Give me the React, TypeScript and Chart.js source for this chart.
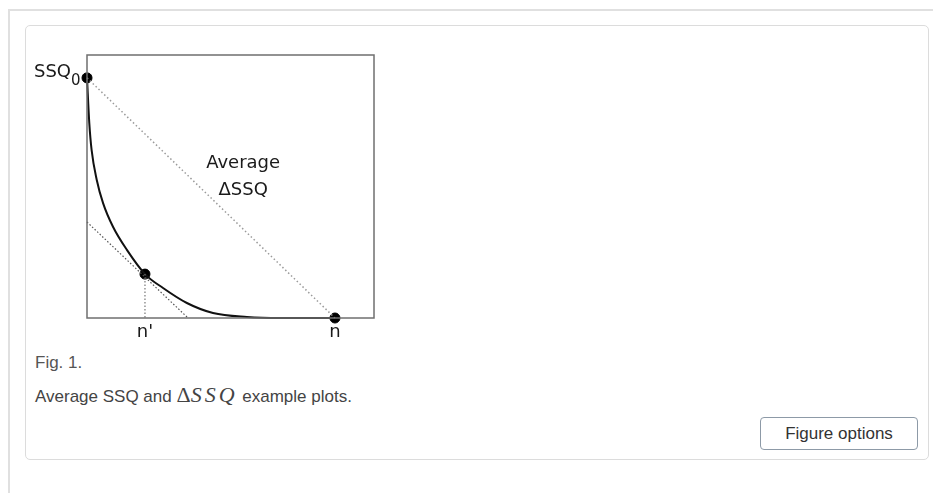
import React, { useEffect, useRef } from "react";
import { Chart, registerables } from "chart.js";

Chart.register(...registerables);

// ---- data (x: 0..100 sample axis, y: 0..100 SSQ axis) ----
const curveX = [0, 0.8, 1.6, 3.4, 5.6, 9.1, 13.9, 20.2, 26.5, 34.8, 43.9, 55.7, 67.2, 86.4];
const curveY = [91.3, 74.1, 63.9, 52.5, 43.7, 34.6, 25.9, 16.7, 11.4, 5.7, 1.9, 0.4, 0, 0];
const averageLineX = [0, 86.4];
const averageLineY = [91.3, 0];
const tangentX = [0, 35.2];
const tangentY = [36.5, 0];
const nPrimeDropX = [20.2, 20.2];
const nPrimeDropY = [16.7, 0];
const markerX = [0, 20.2, 86.4];
const markerY = [91.3, 16.7, 0];
const tickValues = [20.2, 86.4];
const tickLabels = ["n'", "n"];
const noteLines = ["Average", "ΔSSQ"];
const noteX = [54.4, 54.4];
const noteY = [58.9, 48.7];
const ssqLabel = "SSQ";
const ssqSub = "0";

const pts = (xs: number[], ys: number[]) => xs.map((x, i) => ({ x, y: ys[i] }));

const framePlugin = {
  id: "frameAndNotes",
  afterDatasetsDraw(chart: any) {
    const { ctx, chartArea, scales } = chart;
    ctx.save();
    ctx.strokeStyle = "#6f6f6f";
    ctx.lineWidth = 1.5;
    ctx.strokeRect(chartArea.left, chartArea.top, chartArea.right - chartArea.left, chartArea.bottom - chartArea.top);
    ctx.fillStyle = "#1a1a1a";
    ctx.font = '18px "DejaVu Sans"';
    ctx.textAlign = "center";
    ctx.textBaseline = "middle";
    noteLines.forEach((t, i) => {
      ctx.fillText(t, scales.x.getPixelForValue(noteX[i]), scales.y.getPixelForValue(noteY[i]));
    });
    // SSQ0 label next to the top marker
    const py = scales.y.getPixelForValue(markerY[0]);
    const px = scales.x.getPixelForValue(markerX[0]);
    ctx.textBaseline = "alphabetic";
    ctx.textAlign = "right";
    ctx.font = '18px "DejaVu Sans"';
    ctx.fillText(ssqLabel, px - 16, py - 1);
    ctx.textAlign = "left";
    ctx.font = '15px "DejaVu Sans"';
    ctx.fillText(ssqSub, px - 16, py + 7);
    ctx.restore();
  },
};

function FigureChart() {
  const ref = useRef<HTMLCanvasElement | null>(null);
  useEffect(() => {
    if (!ref.current) return;
    const chart = new Chart(ref.current, {
      type: "scatter",
      data: {
        datasets: [
          {
            data: pts(averageLineX, averageLineY),
            showLine: true,
            borderColor: "#9a9a9a",
            borderWidth: 1.5,
            borderDash: [1.5, 2.5],
            pointRadius: 0,
            clip: false,
          },
          {
            data: pts(tangentX, tangentY),
            showLine: true,
            borderColor: "#555",
            borderWidth: 1.2,
            borderDash: [1.5, 2],
            pointRadius: 0,
            clip: false,
          },
          {
            data: pts(nPrimeDropX, nPrimeDropY),
            showLine: true,
            borderColor: "#777",
            borderWidth: 1.2,
            borderDash: [1.5, 2],
            pointRadius: 0,
            clip: false,
          },
          {
            data: pts(curveX, curveY),
            showLine: true,
            borderColor: "#111",
            borderWidth: 2,
            cubicInterpolationMode: "monotone",
            pointRadius: 0,
            clip: false,
          },
          {
            data: pts(markerX, markerY),
            showLine: false,
            pointRadius: 5,
            pointBackgroundColor: "#000",
            pointBorderColor: "#000",
            clip: false,
          },
        ],
      } as any,
      options: {
        animation: false,
        responsive: false,
        devicePixelRatio: 1,
        events: [],
        layout: { padding: { left: 57, top: 10, right: 16, bottom: 0 } },
        plugins: { legend: { display: false }, tooltip: { enabled: false } },
        scales: {
          x: {
            type: "linear",
            min: 0,
            max: 100,
            grid: { display: false, drawTicks: false },
            border: { display: false },
            afterBuildTicks: (s: any) => {
              s.ticks = tickValues.map((v) => ({ value: v }));
            },
            afterFit: (s: any) => {
              s.height = 27;
            },
            ticks: {
              padding: 4,
              color: "#1a1a1a",
              font: { family: "DejaVu Sans", size: 18 },
              callback: (v: any) => tickLabels[tickValues.indexOf(v)] ?? "",
            },
          },
          y: { type: "linear", min: 0, max: 100, display: false },
        },
      } as any,
      plugins: [framePlugin],
    });
    return () => chart.destroy();
  }, []);
  return (
    <canvas
      ref={ref}
      width={360}
      height={300}
      style={{ position: "absolute", left: 30, top: 45, width: 360, height: 300 }}
    />
  );
}

export default function App() {
  const sans = '"Liberation Sans", Arial, sans-serif';
  return (
    <div style={{ position: "absolute", left: 0, top: 0, width: 933, height: 493, background: "#fff", overflow: "hidden" }}>
      <div style={{ position: "absolute", left: 8, top: 9, right: 0, height: 2, background: "#e0e0e0" }} />
      <div style={{ position: "absolute", left: 8, top: 9, width: 2, bottom: 0, background: "#e0e0e0" }} />
      <div
        style={{
          position: "absolute",
          left: 25,
          top: 25,
          width: 904,
          height: 435,
          border: "1px solid #dcdcdc",
          borderRadius: 5,
          boxSizing: "border-box",
        }}
      />
      <FigureChart />
      <div style={{ position: "absolute", left: 35, top: 353, font: `17px ${sans}`, color: "#555", lineHeight: "20px" }}>
        Fig. 1.
      </div>
      <div style={{ position: "absolute", left: 35, top: 384, font: `17px ${sans}`, color: "#444", lineHeight: "22px", whiteSpace: "nowrap" }}>
        Average SSQ and{" "}
        <span style={{ fontFamily: '"Liberation Serif", serif', fontSize: 22 }}>
          Δ<i style={{ letterSpacing: 3 }}>SSQ</i>
        </span>{" "}
        example plots.
      </div>
      <div
        style={{
          position: "absolute",
          left: 760,
          top: 417,
          width: 158,
          height: 33,
          border: "1px solid #8d9aa7",
          borderRadius: 4,
          boxSizing: "border-box",
          font: `17px ${sans}`,
          color: "#333",
          display: "flex",
          alignItems: "center",
          justifyContent: "center",
        }}
      >
        Figure options
      </div>
    </div>
  );
}
